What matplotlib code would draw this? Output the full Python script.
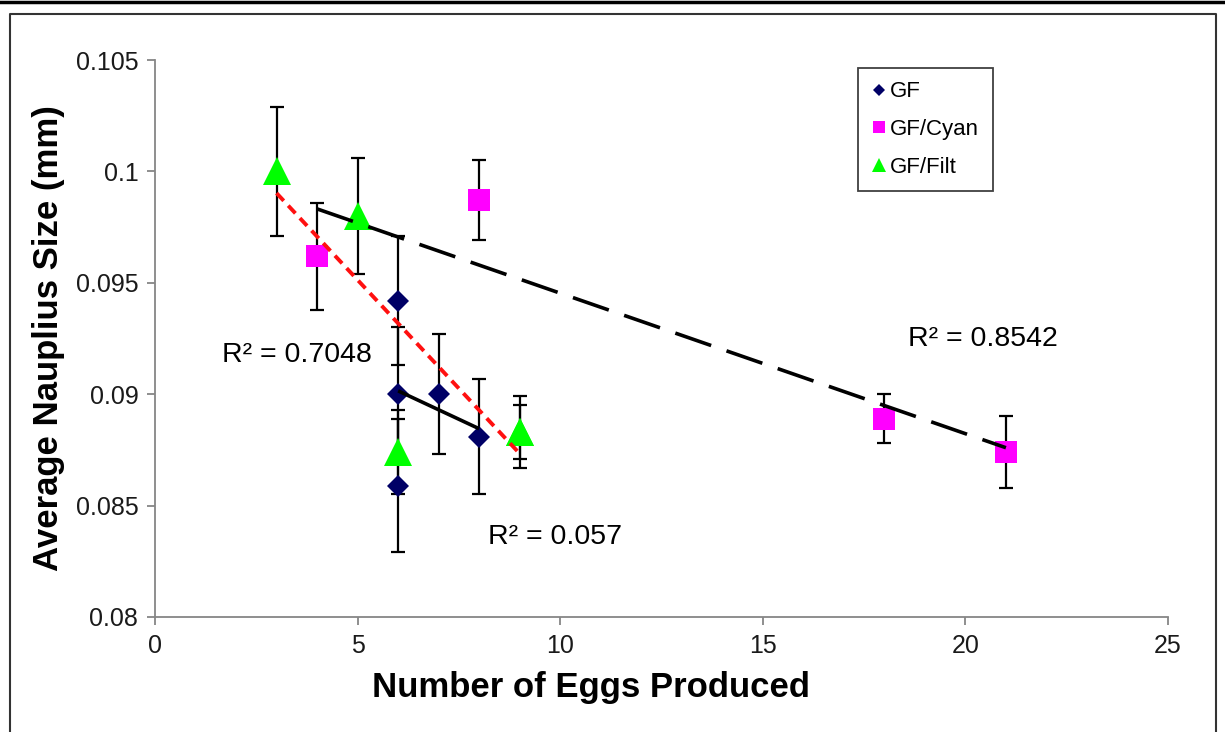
import numpy as np
import matplotlib.pyplot as plt
from matplotlib.lines import Line2D
from matplotlib.ticker import FuncFormatter

plt.rcParams['font.family'] = ['Liberation Sans', 'DejaVu Sans']

# data
gf_x = [6, 6, 6, 7, 8]
gf_y = [0.0942, 0.0900, 0.0859, 0.0900, 0.0881]
gf_err = [0.0029, 0.0030, 0.0030, 0.0027, 0.0026]

cyan_x = [4, 8, 18, 21]
cyan_y = [0.0962, 0.0987, 0.0889, 0.0874]
cyan_err = [0.0024, 0.0018, 0.0011, 0.0016]

filt_x = [3, 5, 6, 9, 9]
filt_y = [0.1000, 0.0980, 0.0874, 0.0883, 0.0883]
filt_err = [0.0029, 0.0026, 0.0019, 0.0016, 0.0012]

r2_labels = ['R² = 0.057', 'R² = 0.8542', 'R² = 0.7048']
x_ticks = [0, 5, 10, 15, 20, 25]
y_ticks = [0.08, 0.085, 0.09, 0.095, 0.1, 0.105]

fig = plt.figure(figsize=(12.25, 7.32), dpi=100)
ax = fig.add_axes([155 / 1225, 1 - 617 / 732, 1013 / 1225, 557 / 732])

series = [
    (gf_x, gf_y, gf_err, 'D', '#000066', 11.5, 'GF'),
    (cyan_x, cyan_y, cyan_err, 's', '#FF00FF', 16.5, 'GF/Cyan'),
    (filt_x, filt_y, filt_err, '^', '#00FF00', 19.5, 'GF/Filt'),
]

for x, y, e, m, c, ms, lab in series:
    ax.errorbar(x, y, yerr=e, fmt='none', ecolor='black', elinewidth=1.6,
                capsize=5, capthick=1.6, zorder=2)
    ax.plot(x, y, linestyle='none', marker=m, color=c, markersize=ms,
            markeredgewidth=0, label=lab, zorder=3)

# linear trendlines
styles = [
    dict(color='black', lw=2.6, linestyle='-'),
    dict(color='black', lw=2.6, dashes=(10.5, 4.5)),
    dict(color='#FF1010', lw=2.8, dashes=(2.7, 1.7)),
]
for (x, y, e, m, c, ms, lab), st in zip(series, styles):
    k, b = np.polyfit(x, y, 1)
    xs = np.array([min(x), max(x)])
    ax.plot(xs, k * xs + b, zorder=4, solid_capstyle='butt', **st)

ax.text(8.22, 0.08359, r2_labels[0], fontsize=20.5, va='center', ha='left')
ax.text(18.58, 0.09248, r2_labels[1], fontsize=20.5, va='center', ha='left')
ax.text(1.65, 0.09176, r2_labels[2], fontsize=20.5, va='center', ha='left')

ax.set_xlim(0, 25)
ax.set_ylim(0.08, 0.105)
ax.set_xticks(x_ticks)
ax.set_yticks(y_ticks)
ax.yaxis.set_major_formatter(FuncFormatter(lambda v, p: ('%.3f' % v).rstrip('0')))
for s in ['top', 'right']:
    ax.spines[s].set_visible(False)
for s in ['left', 'bottom']:
    ax.spines[s].set_color('#868686')
    ax.spines[s].set_linewidth(1.3)
ax.tick_params(axis='both', direction='out', color='#868686', width=1.3,
               length=6, labelsize=18, labelcolor='#1a1a1a')
ax.tick_params(axis='x', pad=6)
ax.tick_params(axis='y', pad=6)

ax.set_xlabel('Number of Eggs Produced', fontsize=25, fontweight='bold')
ax.xaxis.set_label_coords(0.43, -0.126)
ax.xaxis.label.set_va('center')
ax.set_ylabel('Average Nauplius Size (mm)', fontsize=25, fontweight='bold')
ax.yaxis.set_label_coords(-0.1056, 0.5)
ax.yaxis.label.set_va('center')

leg = ax.legend(loc='upper left', bbox_to_anchor=(0.694, 0.9856), borderaxespad=0,
                fontsize=16, markerscale=0.5, fancybox=False, framealpha=1,
                edgecolor='#404040', handlelength=0.7, handletextpad=0.15,
                labelspacing=0.75, borderpad=0.6)
leg.get_frame().set_linewidth(1.3)

# outer frame of the picture
fig.add_artist(Line2D([0, 1], [1 - 2 / 732, 1 - 2 / 732], color='black', lw=2.5,
                      transform=fig.transFigure))
fig.add_artist(Line2D([10 / 1225, 10 / 1225, 1216 / 1225, 1216 / 1225],
                      [0, 1 - 14 / 732, 1 - 14 / 732, 0], color='#333333', lw=1.5,
                      transform=fig.transFigure))

fig.savefig('out.png', dpi=100)
